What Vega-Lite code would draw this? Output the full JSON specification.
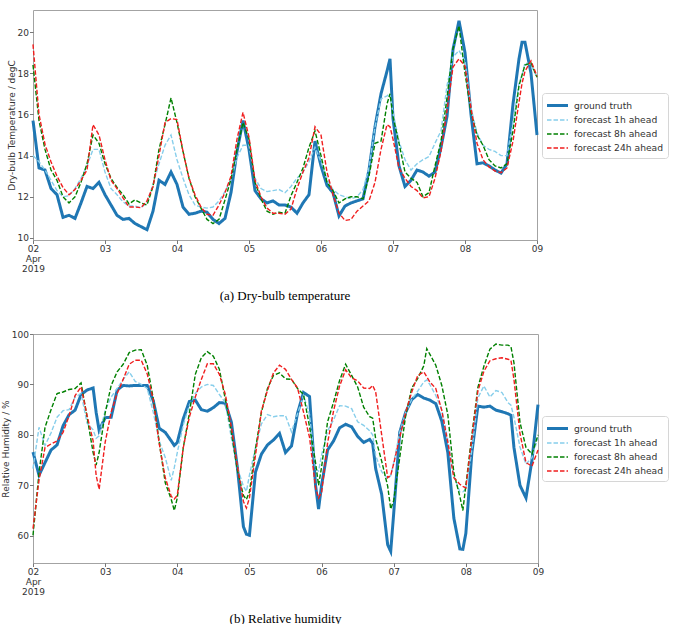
{
  "$schema": "https://vega.github.io/schema/vega-lite/v6.json",
  "background": "white",
  "padding": {"left": 0, "top": 9, "right": 0, "bottom": 0},
  "spacing": 26,
  "config": {
    "font": "DejaVu Sans",
    "view": {"stroke": "#a3a3a3", "strokeWidth": 1},
    "axis": {
      "domain": false,
      "grid": false,
      "ticks": true,
      "tickColor": "#555555",
      "tickSize": 3.5,
      "tickWidth": 0.8,
      "labelFont": "DejaVu Sans",
      "labelFontSize": 9,
      "labelColor": "#333333",
      "labelPadding": 1,
      "titlePadding": 1,
      "titleFont": "DejaVu Sans",
      "titleFontSize": 9,
      "titleFontWeight": "normal",
      "titleColor": "#333333"
    },
    "legend": {
      "labelFont": "DejaVu Sans",
      "labelFontSize": 9.2,
      "labelColor": "#333333",
      "symbolType": "M-1.5,0H1.5",
      "symbolSize": 196,
      "symbolOffset": 3,
      "strokeColor": "#d6d6d6",
      "fillColor": "white",
      "padding": 4,
      "cornerRadius": 3,
      "rowPadding": 0,
      "labelOffset": 8
    },
    "title": {"font": "Liberation Serif", "fontSize": 13, "fontWeight": "normal", "color": "black"}
  },
  "datasets": {
    "temp": [
      {"t": "2019-04-02T00:00", "g": 15.7, "a": 14.0, "b": 18.4, "c": 19.4},
      {"t": "2019-04-02T02:00", "g": 13.4, "a": 13.7, "b": 15.7, "c": 16.0},
      {"t": "2019-04-02T04:00", "g": 13.3, "a": 13.3, "b": 14.3, "c": 14.55},
      {"t": "2019-04-02T06:00", "g": 12.4, "a": 12.8, "b": 13.3, "c": 13.7},
      {"t": "2019-04-02T08:00", "g": 12.1, "a": 12.3, "b": 12.8, "c": 13.0},
      {"t": "2019-04-02T10:00", "g": 11.0, "a": 12.0, "b": 12.0, "c": 12.45},
      {"t": "2019-04-02T12:00", "g": 11.1, "a": 12.05, "b": 11.7, "c": 12.1},
      {"t": "2019-04-02T14:00", "g": 10.95, "a": 12.4, "b": 12.0, "c": 12.35},
      {"t": "2019-04-02T16:00", "g": 11.7, "a": 12.9, "b": 12.7, "c": 12.8},
      {"t": "2019-04-02T18:00", "g": 12.5, "a": 13.5, "b": 13.6, "c": 13.3},
      {"t": "2019-04-02T20:00", "g": 12.4, "a": 14.3, "b": 15.0, "c": 15.5},
      {"t": "2019-04-02T22:00", "g": 12.7, "a": 14.3, "b": 14.6, "c": 15.0},
      {"t": "2019-04-03T00:00", "g": 12.1, "a": 13.2, "b": 13.6, "c": 13.8},
      {"t": "2019-04-03T02:00", "g": 11.6, "a": 12.4, "b": 12.9, "c": 12.8},
      {"t": "2019-04-03T04:00", "g": 11.1, "a": 12.1, "b": 12.45, "c": 12.4},
      {"t": "2019-04-03T06:00", "g": 10.9, "a": 11.75, "b": 12.1, "c": 11.95},
      {"t": "2019-04-03T08:00", "g": 10.95, "a": 11.55, "b": 11.65, "c": 11.5},
      {"t": "2019-04-03T10:00", "g": 10.7, "a": 11.55, "b": 11.85, "c": 11.5},
      {"t": "2019-04-03T12:00", "g": 10.55, "a": 11.47, "b": 11.7, "c": 11.47},
      {"t": "2019-04-03T14:00", "g": 10.4, "a": 11.7, "b": 11.6, "c": 11.8},
      {"t": "2019-04-03T16:00", "g": 11.3, "a": 12.6, "b": 12.5, "c": 12.5},
      {"t": "2019-04-03T18:00", "g": 12.8, "a": 13.6, "b": 14.3, "c": 14.0},
      {"t": "2019-04-03T20:00", "g": 12.6, "a": 14.5, "b": 15.5, "c": 15.6},
      {"t": "2019-04-03T22:00", "g": 13.2, "a": 15.0, "b": 16.8, "c": 15.8},
      {"t": "2019-04-04T00:00", "g": 12.6, "a": 13.8, "b": 15.6, "c": 15.75},
      {"t": "2019-04-04T02:00", "g": 11.5, "a": 12.9, "b": 14.2, "c": 14.2},
      {"t": "2019-04-04T04:00", "g": 11.15, "a": 12.1, "b": 12.9, "c": 12.9},
      {"t": "2019-04-04T06:00", "g": 11.2, "a": 11.6, "b": 12.0, "c": 12.1},
      {"t": "2019-04-04T08:00", "g": 11.3, "a": 11.5, "b": 11.45, "c": 11.5},
      {"t": "2019-04-04T10:00", "g": 11.25, "a": 11.45, "b": 10.9, "c": 11.15},
      {"t": "2019-04-04T12:00", "g": 10.9, "a": 11.5, "b": 10.7, "c": 11.1},
      {"t": "2019-04-04T14:00", "g": 10.7, "a": 11.8, "b": 10.9, "c": 11.6},
      {"t": "2019-04-04T16:00", "g": 10.95, "a": 12.25, "b": 11.85, "c": 12.2},
      {"t": "2019-04-04T18:00", "g": 12.2, "a": 12.85, "b": 12.85, "c": 13.0},
      {"t": "2019-04-04T20:00", "g": 14.2, "a": 13.9, "b": 14.3, "c": 14.8},
      {"t": "2019-04-04T22:00", "g": 15.7, "a": 14.5, "b": 15.6, "c": 16.1},
      {"t": "2019-04-05T00:00", "g": 14.3, "a": 14.5, "b": 14.8, "c": 14.9},
      {"t": "2019-04-05T02:00", "g": 12.3, "a": 12.9, "b": 12.7, "c": 12.8},
      {"t": "2019-04-05T04:00", "g": 11.9, "a": 12.4, "b": 11.9, "c": 12.0},
      {"t": "2019-04-05T06:00", "g": 11.7, "a": 12.25, "b": 11.3, "c": 11.45},
      {"t": "2019-04-05T08:00", "g": 11.8, "a": 12.3, "b": 11.15, "c": 11.2},
      {"t": "2019-04-05T10:00", "g": 11.6, "a": 12.35, "b": 11.25, "c": 11.2},
      {"t": "2019-04-05T12:00", "g": 11.6, "a": 12.2, "b": 11.2, "c": 11.15},
      {"t": "2019-04-05T14:00", "g": 11.5, "a": 12.5, "b": 12.05, "c": 11.4},
      {"t": "2019-04-05T16:00", "g": 11.2, "a": 12.9, "b": 12.7, "c": 12.4},
      {"t": "2019-04-05T18:00", "g": 11.7, "a": 13.2, "b": 13.4, "c": 13.2},
      {"t": "2019-04-05T20:00", "g": 12.1, "a": 13.7, "b": 14.4, "c": 13.9},
      {"t": "2019-04-05T22:00", "g": 14.7, "a": 14.4, "b": 15.2, "c": 15.4},
      {"t": "2019-04-06T00:00", "g": 13.5, "a": 13.7, "b": 14.0, "c": 15.0},
      {"t": "2019-04-06T02:00", "g": 12.55, "a": 12.85, "b": 12.7, "c": 13.2},
      {"t": "2019-04-06T04:00", "g": 12.2, "a": 12.35, "b": 12.3, "c": 12.1},
      {"t": "2019-04-06T06:00", "g": 11.07, "a": 12.1, "b": 11.7, "c": 11.2},
      {"t": "2019-04-06T08:00", "g": 11.55, "a": 12.0, "b": 11.9, "c": 10.85},
      {"t": "2019-04-06T10:00", "g": 11.7, "a": 11.9, "b": 12.0, "c": 10.9},
      {"t": "2019-04-06T12:00", "g": 11.8, "a": 12.0, "b": 12.0, "c": 11.3},
      {"t": "2019-04-06T14:00", "g": 11.9, "a": 12.35, "b": 11.9, "c": 11.55},
      {"t": "2019-04-06T16:00", "g": 13.3, "a": 13.4, "b": 13.0, "c": 11.8},
      {"t": "2019-04-06T18:00", "g": 15.4, "a": 15.4, "b": 14.6, "c": 12.7},
      {"t": "2019-04-06T20:00", "g": 17.0, "a": 16.75, "b": 14.7, "c": 14.3},
      {"t": "2019-04-06T22:00", "g": 18.1, "a": 16.9, "b": 16.5, "c": 15.5},
      {"t": "2019-04-06T23:00", "g": 18.7, "a": 17.0, "b": 17.0, "c": 15.4},
      {"t": "2019-04-07T00:00", "g": 15.8, "a": 16.1, "b": 15.9, "c": 14.8},
      {"t": "2019-04-07T02:00", "g": 13.5, "a": 14.7, "b": 14.6, "c": 13.4},
      {"t": "2019-04-07T04:00", "g": 12.5, "a": 13.8, "b": 13.2, "c": 12.9},
      {"t": "2019-04-07T06:00", "g": 12.8, "a": 13.3, "b": 12.9, "c": 12.5},
      {"t": "2019-04-07T08:00", "g": 13.3, "a": 13.6, "b": 12.7, "c": 12.3},
      {"t": "2019-04-07T10:00", "g": 13.2, "a": 13.8, "b": 12.0, "c": 11.95},
      {"t": "2019-04-07T12:00", "g": 13.0, "a": 13.95, "b": 12.2, "c": 12.0},
      {"t": "2019-04-07T14:00", "g": 13.2, "a": 14.6, "b": 13.5, "c": 12.9},
      {"t": "2019-04-07T16:00", "g": 14.4, "a": 15.2, "b": 14.7, "c": 14.2},
      {"t": "2019-04-07T18:00", "g": 15.9, "a": 17.4, "b": 16.8, "c": 16.2},
      {"t": "2019-04-07T20:00", "g": 19.15, "a": 18.8, "b": 19.2, "c": 18.3},
      {"t": "2019-04-07T22:00", "g": 20.55, "a": 19.1, "b": 20.3, "c": 18.7},
      {"t": "2019-04-08T00:00", "g": 19.0, "a": 18.6, "b": 18.0, "c": 18.35},
      {"t": "2019-04-08T02:00", "g": 16.0, "a": 16.3, "b": 16.1, "c": 16.3},
      {"t": "2019-04-08T04:00", "g": 13.6, "a": 15.1, "b": 15.0, "c": 14.6},
      {"t": "2019-04-08T06:00", "g": 13.65, "a": 14.5, "b": 14.5, "c": 13.8},
      {"t": "2019-04-08T08:00", "g": 13.5, "a": 14.3, "b": 13.8, "c": 13.45},
      {"t": "2019-04-08T10:00", "g": 13.3, "a": 14.2, "b": 13.5, "c": 13.25},
      {"t": "2019-04-08T12:00", "g": 13.15, "a": 14.0, "b": 13.4, "c": 13.17},
      {"t": "2019-04-08T14:00", "g": 13.6, "a": 14.0, "b": 13.6, "c": 13.4},
      {"t": "2019-04-08T16:00", "g": 16.5, "a": 15.6, "b": 15.2, "c": 14.7},
      {"t": "2019-04-08T18:00", "g": 18.7, "a": 17.5, "b": 17.4, "c": 16.6},
      {"t": "2019-04-08T19:00", "g": 19.5, "a": 17.9, "b": 17.9, "c": 17.5},
      {"t": "2019-04-08T20:00", "g": 19.5, "a": 18.5, "b": 18.4, "c": 18.1},
      {"t": "2019-04-08T22:00", "g": 18.0, "a": 18.4, "b": 18.5, "c": 18.6},
      {"t": "2019-04-09T00:00", "g": 15.0, "a": 17.8, "b": 17.8, "c": 17.85}
    ],
    "rh": [
      {"t": "2019-04-02T00:00", "g": 76.6, "a": 73.3, "b": 60.1, "c": 61.4},
      {"t": "2019-04-02T02:00", "g": 72.0, "a": 81.5, "b": 72.5, "c": 71.0},
      {"t": "2019-04-02T04:00", "g": 74.5, "a": 77.9, "b": 81.5, "c": 77.5},
      {"t": "2019-04-02T06:00", "g": 77.0, "a": 80.4, "b": 85.0, "c": 78.2},
      {"t": "2019-04-02T08:00", "g": 78.0, "a": 83.5, "b": 88.2, "c": 78.8},
      {"t": "2019-04-02T10:00", "g": 81.8, "a": 84.8, "b": 88.5, "c": 80.5},
      {"t": "2019-04-02T12:00", "g": 84.0, "a": 85.0, "b": 89.0, "c": 83.8},
      {"t": "2019-04-02T14:00", "g": 84.9, "a": 87.5, "b": 89.2, "c": 87.8},
      {"t": "2019-04-02T16:00", "g": 88.0, "a": 88.2, "b": 90.3, "c": 89.5},
      {"t": "2019-04-02T18:00", "g": 88.9, "a": 82.3, "b": 83.5, "c": 83.8},
      {"t": "2019-04-02T20:00", "g": 89.3, "a": 81.0, "b": 76.5, "c": 78.8},
      {"t": "2019-04-02T21:00", "g": 84.5, "a": 79.3, "b": 74.0, "c": 72.0},
      {"t": "2019-04-02T22:00", "g": 80.9, "a": 79.8, "b": 76.5, "c": 69.2},
      {"t": "2019-04-03T00:00", "g": 83.4, "a": 84.8, "b": 84.3, "c": 78.5},
      {"t": "2019-04-03T02:00", "g": 83.5, "a": 87.5, "b": 89.8, "c": 84.5},
      {"t": "2019-04-03T04:00", "g": 88.9, "a": 89.2, "b": 92.5, "c": 88.2},
      {"t": "2019-04-03T06:00", "g": 89.8, "a": 91.0, "b": 94.0, "c": 91.0},
      {"t": "2019-04-03T08:00", "g": 89.7, "a": 92.5, "b": 96.3, "c": 94.0},
      {"t": "2019-04-03T10:00", "g": 89.8, "a": 90.6, "b": 96.8, "c": 94.8},
      {"t": "2019-04-03T12:00", "g": 89.8, "a": 90.0, "b": 96.9, "c": 94.8},
      {"t": "2019-04-03T14:00", "g": 89.8, "a": 89.2, "b": 93.8, "c": 92.1},
      {"t": "2019-04-03T16:00", "g": 86.8, "a": 84.5, "b": 87.2, "c": 87.0},
      {"t": "2019-04-03T18:00", "g": 81.3, "a": 78.8, "b": 78.5, "c": 78.2},
      {"t": "2019-04-03T20:00", "g": 80.5, "a": 75.5, "b": 70.5, "c": 71.5},
      {"t": "2019-04-03T22:00", "g": 78.8, "a": 71.0, "b": 67.2, "c": 67.8},
      {"t": "2019-04-03T23:00", "g": 77.9, "a": 73.5, "b": 65.0, "c": 67.3},
      {"t": "2019-04-04T00:00", "g": 78.5, "a": 76.5, "b": 67.5, "c": 68.0},
      {"t": "2019-04-04T02:00", "g": 83.2, "a": 82.0, "b": 77.5, "c": 77.5},
      {"t": "2019-04-04T04:00", "g": 86.6, "a": 85.8, "b": 84.2, "c": 83.5},
      {"t": "2019-04-04T06:00", "g": 86.9, "a": 88.2, "b": 92.0, "c": 87.5},
      {"t": "2019-04-04T08:00", "g": 85.0, "a": 89.5, "b": 95.3, "c": 91.0},
      {"t": "2019-04-04T10:00", "g": 84.7, "a": 90.0, "b": 96.5, "c": 94.1},
      {"t": "2019-04-04T12:00", "g": 85.4, "a": 89.8, "b": 95.6, "c": 94.1},
      {"t": "2019-04-04T14:00", "g": 86.4, "a": 88.0, "b": 93.0, "c": 92.0},
      {"t": "2019-04-04T16:00", "g": 86.3, "a": 86.4, "b": 87.0, "c": 88.0},
      {"t": "2019-04-04T18:00", "g": 82.5, "a": 79.3, "b": 80.5, "c": 81.5},
      {"t": "2019-04-04T20:00", "g": 73.5, "a": 73.5, "b": 73.0, "c": 73.8},
      {"t": "2019-04-04T22:00", "g": 61.8, "a": 69.8, "b": 68.0, "c": 66.8},
      {"t": "2019-04-04T23:00", "g": 60.3, "a": 68.8, "b": 67.2, "c": 65.5},
      {"t": "2019-04-05T00:00", "g": 60.1, "a": 72.0, "b": 68.7, "c": 67.5},
      {"t": "2019-04-05T02:00", "g": 72.6, "a": 77.5, "b": 77.2, "c": 75.9},
      {"t": "2019-04-05T04:00", "g": 76.2, "a": 82.2, "b": 84.5, "c": 84.8},
      {"t": "2019-04-05T06:00", "g": 78.0, "a": 84.0, "b": 89.2, "c": 88.8},
      {"t": "2019-04-05T08:00", "g": 79.0, "a": 83.6, "b": 91.8, "c": 92.3},
      {"t": "2019-04-05T10:00", "g": 80.3, "a": 83.8, "b": 92.3, "c": 93.8},
      {"t": "2019-04-05T12:00", "g": 76.5, "a": 83.8, "b": 91.1, "c": 93.0},
      {"t": "2019-04-05T14:00", "g": 77.8, "a": 80.6, "b": 91.0, "c": 91.0},
      {"t": "2019-04-05T16:00", "g": 84.3, "a": 84.2, "b": 89.2, "c": 89.3},
      {"t": "2019-04-05T18:00", "g": 88.4, "a": 87.8, "b": 88.0, "c": 84.5},
      {"t": "2019-04-05T20:00", "g": 87.6, "a": 84.0, "b": 81.6, "c": 79.5},
      {"t": "2019-04-05T22:00", "g": 70.0, "a": 73.2, "b": 74.5, "c": 69.5},
      {"t": "2019-04-05T23:00", "g": 65.3, "a": 72.8, "b": 70.0, "c": 67.5},
      {"t": "2019-04-06T00:00", "g": 70.0, "a": 76.0, "b": 73.6, "c": 68.5},
      {"t": "2019-04-06T02:00", "g": 77.0, "a": 80.8, "b": 82.6, "c": 78.4},
      {"t": "2019-04-06T04:00", "g": 78.8, "a": 83.0, "b": 86.5, "c": 84.8},
      {"t": "2019-04-06T06:00", "g": 81.4, "a": 85.8, "b": 90.8, "c": 89.7},
      {"t": "2019-04-06T08:00", "g": 82.1, "a": 85.7, "b": 94.0, "c": 92.9},
      {"t": "2019-04-06T10:00", "g": 81.6, "a": 85.2, "b": 91.8, "c": 91.3},
      {"t": "2019-04-06T12:00", "g": 79.7, "a": 82.6, "b": 89.5, "c": 90.7},
      {"t": "2019-04-06T14:00", "g": 78.5, "a": 81.9, "b": 85.5, "c": 89.3},
      {"t": "2019-04-06T16:00", "g": 79.1, "a": 80.8, "b": 83.6, "c": 89.2},
      {"t": "2019-04-06T17:00", "g": 78.3, "a": 80.0, "b": 83.3, "c": 89.8},
      {"t": "2019-04-06T18:00", "g": 73.3, "a": 75.9, "b": 79.2, "c": 88.5},
      {"t": "2019-04-06T20:00", "g": 68.2, "a": 72.7, "b": 74.8, "c": 80.0},
      {"t": "2019-04-06T22:00", "g": 58.2, "a": 71.3, "b": 69.8, "c": 71.5},
      {"t": "2019-04-06T23:00", "g": 56.9, "a": 71.9, "b": 65.3, "c": 72.0},
      {"t": "2019-04-07T00:00", "g": 64.5, "a": 74.5, "b": 67.0, "c": 74.3},
      {"t": "2019-04-07T02:00", "g": 80.5, "a": 80.5, "b": 75.5, "c": 79.5},
      {"t": "2019-04-07T04:00", "g": 84.5, "a": 84.5, "b": 83.9, "c": 84.5},
      {"t": "2019-04-07T06:00", "g": 87.0, "a": 87.0, "b": 89.3, "c": 88.5},
      {"t": "2019-04-07T08:00", "g": 88.0, "a": 88.7, "b": 91.2, "c": 91.8},
      {"t": "2019-04-07T10:00", "g": 87.3, "a": 90.5, "b": 93.7, "c": 92.5},
      {"t": "2019-04-07T11:00", "g": 87.1, "a": 90.9, "b": 97.1, "c": 91.5},
      {"t": "2019-04-07T12:00", "g": 86.9, "a": 90.0, "b": 96.0, "c": 90.5},
      {"t": "2019-04-07T14:00", "g": 86.2, "a": 87.8, "b": 93.8, "c": 89.2},
      {"t": "2019-04-07T16:00", "g": 82.7, "a": 85.0, "b": 89.8, "c": 84.8},
      {"t": "2019-04-07T18:00", "g": 76.5, "a": 79.0, "b": 84.0, "c": 78.5},
      {"t": "2019-04-07T20:00", "g": 63.5, "a": 71.8, "b": 72.5, "c": 71.5},
      {"t": "2019-04-07T22:00", "g": 57.4, "a": 68.7, "b": 67.8, "c": 70.2},
      {"t": "2019-04-07T23:00", "g": 57.3, "a": 68.7, "b": 65.0, "c": 69.8},
      {"t": "2019-04-08T00:00", "g": 60.5, "a": 69.3, "b": 70.0, "c": 69.5},
      {"t": "2019-04-08T02:00", "g": 76.5, "a": 77.0, "b": 80.0, "c": 79.5},
      {"t": "2019-04-08T04:00", "g": 85.7, "a": 87.3, "b": 89.4, "c": 88.7},
      {"t": "2019-04-08T06:00", "g": 85.5, "a": 89.7, "b": 93.6, "c": 92.6},
      {"t": "2019-04-08T08:00", "g": 85.7, "a": 87.5, "b": 97.0, "c": 94.7},
      {"t": "2019-04-08T10:00", "g": 84.9, "a": 88.8, "b": 98.0, "c": 95.1},
      {"t": "2019-04-08T12:00", "g": 84.6, "a": 88.4, "b": 97.8, "c": 95.3},
      {"t": "2019-04-08T14:00", "g": 84.2, "a": 86.4, "b": 97.8, "c": 95.0},
      {"t": "2019-04-08T15:00", "g": 83.9, "a": 85.9, "b": 97.5, "c": 94.8},
      {"t": "2019-04-08T16:00", "g": 77.5, "a": 83.5, "b": 94.3, "c": 91.0},
      {"t": "2019-04-08T18:00", "g": 70.0, "a": 77.6, "b": 82.5, "c": 80.3},
      {"t": "2019-04-08T20:00", "g": 67.5, "a": 74.2, "b": 77.5, "c": 74.5},
      {"t": "2019-04-08T22:00", "g": 75.0, "a": 75.5, "b": 76.2, "c": 73.8},
      {"t": "2019-04-09T00:00", "g": 86.0, "a": 79.5, "b": 80.0, "c": 77.0}
    ]
  },
  "vconcat": [
    {
      "width": 504,
      "height": 230,
      "data": {"name": "temp"},
      "transform": [{"fold": ["g", "a", "b", "c"], "as": ["series", "value"]}],
      "title": {"text": "(a) Dry-bulb temperature", "orient": "bottom", "offset": 16},
      "encoding": {
        "x": {
          "field": "t", "type": "temporal", "title": null,
          "scale": {"domain": [{"year": 2019, "month": "apr", "date": 2}, {"year": 2019, "month": "apr", "date": 9}]},
          "axis": {
            "tickCount": {"interval": "day", "step": 1},
            "labelLineHeight": 10,
            "labelAlign": "center",
            "labelExpr": "timeFormat(datum.value, '%d') == '02' ? ['02', 'Apr', '2019'] : timeFormat(datum.value, '%d')"
          }
        },
        "y": {
          "field": "value", "type": "quantitative", "title": "Dry-bulb Temperature / degC",
          "scale": {"domain": [9.9, 21.07], "nice": false, "zero": false},
          "axis": {"values": [10, 12, 14, 16, 18, 20]}
        },
        "color": {
          "field": "series", "type": "nominal",
          "scale": {"domain": ["g", "a", "b", "c"], "range": ["#1f77b4", "#87ceeb", "#008000", "#f01e1e"]},
          "legend": {
            "title": null, "orient": "none", "legendX": 509, "legendY": 83,
            "labelExpr": "datum.label == 'g' ? 'ground truth' : datum.label == 'a' ? 'forecast 1h ahead' : datum.label == 'b' ? 'forecast 8h ahead' : 'forecast 24h ahead'"
          }
        },
        "strokeDash": {
          "field": "series", "type": "nominal",
          "scale": {"domain": ["g", "a", "b", "c"], "range": [[1, 0], [4.5, 2], [4.5, 2], [4.5, 2]]},
          "legend": {
            "title": null, "orient": "none", "legendX": 509, "legendY": 83,
            "labelExpr": "datum.label == 'g' ? 'ground truth' : datum.label == 'a' ? 'forecast 1h ahead' : datum.label == 'b' ? 'forecast 8h ahead' : 'forecast 24h ahead'"
          }
        },
        "strokeWidth": {
          "field": "series", "type": "nominal",
          "scale": {"type": "ordinal", "domain": ["g", "a", "b", "c"], "range": [3, 1.4, 1.4, 1.4]},
          "legend": {
            "title": null, "orient": "none", "legendX": 509, "legendY": 83,
            "labelExpr": "datum.label == 'g' ? 'ground truth' : datum.label == 'a' ? 'forecast 1h ahead' : datum.label == 'b' ? 'forecast 8h ahead' : 'forecast 24h ahead'"
          }
        }
      },
      "layer": [
        {"transform": [{"filter": "datum.series == 'g'"}], "mark": {"type": "line"}},
        {"transform": [{"filter": "datum.series != 'g'"}], "mark": {"type": "line"}}
      ]
    },
    {
      "width": 505,
      "height": 229,
      "data": {"name": "rh"},
      "transform": [{"fold": ["g", "a", "b", "c"], "as": ["series", "value"]}],
      "title": {"text": "(b) Relative humidity", "orient": "bottom", "offset": 16},
      "encoding": {
        "x": {
          "field": "t", "type": "temporal", "title": null,
          "scale": {"domain": [{"year": 2019, "month": "apr", "date": 2}, {"year": 2019, "month": "apr", "date": 9}]},
          "axis": {
            "tickCount": {"interval": "day", "step": 1},
            "labelLineHeight": 10,
            "labelAlign": "center",
            "labelExpr": "timeFormat(datum.value, '%d') == '02' ? ['02', 'Apr', '2019'] : timeFormat(datum.value, '%d')"
          }
        },
        "y": {
          "field": "value", "type": "quantitative", "title": "Relative Humidity / %",
          "scale": {"domain": [54.6, 100], "nice": false, "zero": false},
          "axis": {"values": [60, 70, 80, 90, 100]}
        },
        "color": {
          "field": "series", "type": "nominal",
          "scale": {"domain": ["g", "a", "b", "c"], "range": ["#1f77b4", "#87ceeb", "#008000", "#f01e1e"]},
          "legend": {
            "title": null, "orient": "none", "legendX": 509, "legendY": 82,
            "labelExpr": "datum.label == 'g' ? 'ground truth' : datum.label == 'a' ? 'forecast 1h ahead' : datum.label == 'b' ? 'forecast 8h ahead' : 'forecast 24h ahead'"
          }
        },
        "strokeDash": {
          "field": "series", "type": "nominal",
          "scale": {"domain": ["g", "a", "b", "c"], "range": [[1, 0], [4.5, 2], [4.5, 2], [4.5, 2]]},
          "legend": {
            "title": null, "orient": "none", "legendX": 509, "legendY": 82,
            "labelExpr": "datum.label == 'g' ? 'ground truth' : datum.label == 'a' ? 'forecast 1h ahead' : datum.label == 'b' ? 'forecast 8h ahead' : 'forecast 24h ahead'"
          }
        },
        "strokeWidth": {
          "field": "series", "type": "nominal",
          "scale": {"type": "ordinal", "domain": ["g", "a", "b", "c"], "range": [3, 1.4, 1.4, 1.4]},
          "legend": {
            "title": null, "orient": "none", "legendX": 509, "legendY": 82,
            "labelExpr": "datum.label == 'g' ? 'ground truth' : datum.label == 'a' ? 'forecast 1h ahead' : datum.label == 'b' ? 'forecast 8h ahead' : 'forecast 24h ahead'"
          }
        }
      },
      "layer": [
        {"transform": [{"filter": "datum.series == 'g'"}], "mark": {"type": "line"}},
        {"transform": [{"filter": "datum.series != 'g'"}], "mark": {"type": "line"}}
      ]
    }
  ],
  "resolve": {
    "scale": {"color": "independent", "strokeDash": "independent", "strokeWidth": "independent"},
    "legend": {"color": "independent", "strokeDash": "independent", "strokeWidth": "independent"}
  }
}
